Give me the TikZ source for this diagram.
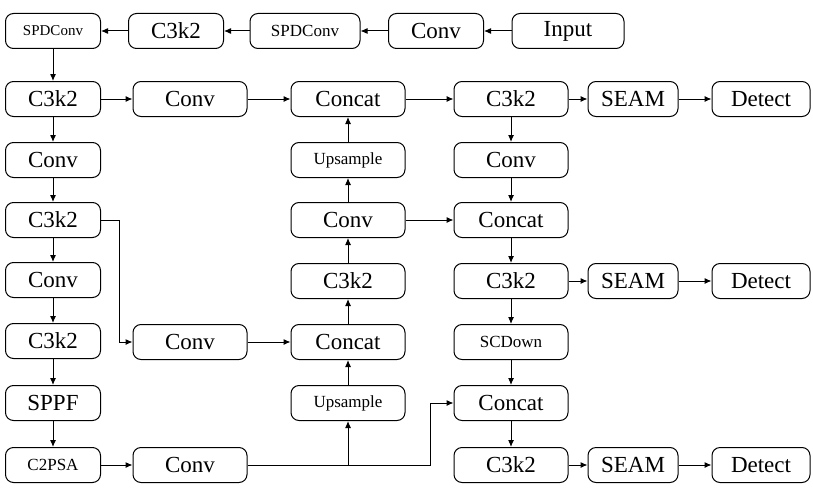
\documentclass[tikz,border=0pt]{standalone}
\usepackage{fontspec}
\setmainfont{Liberation Serif}
\usetikzlibrary{arrows.meta}
\begin{document}
\begin{tikzpicture}[x=1pt,y=-1pt,
 b/.style={draw,line width=1pt,rounded corners=8pt,minimum width=95pt,minimum height=35pt,inner sep=0pt,font=\fontsize{23}{23}\selectfont},
 s/.style={b,font=\fontsize{17}{17}\selectfont},
 w/.style={minimum width=114pt},
 ar/.style={-{Latex[length=7pt,width=6pt]},line width=1pt}]
\useasboundingbox (0,0) rectangle (813,495);
\node[s,font=\fontsize{15}{15}\selectfont] (spd1) at (53,31) {SPDConv};
\node[b] (t2) at (176,31) {C3k2};
\node[s,minimum width=110pt] (spd2) at (305,31) {SPDConv};
\node[b] (t4) at (436,31) {Conv};
\node[b,minimum width=112pt] (in) at (568,31) {Input};
\node[b] (a1) at (53,99) {C3k2};
\node[b] (a2) at (53,160) {Conv};
\node[b] (a3) at (53,220) {C3k2};
\node[b] (a4) at (53,280) {Conv};
\node[b] (a5) at (53,341) {C3k2};
\node[b] (a6) at (53,403) {SPPF};
\node[s] (a7) at (53,465) {C2PSA};
\node[b,w] (b1) at (190,99) {Conv};
\node[b,w] (b2) at (190,342) {Conv};
\node[b,w] (b3) at (190,465) {Conv};
\node[b,w] (c1) at (348,99) {Concat};
\node[s,w] (c2) at (348,160) {Upsample};
\node[b,w] (c3) at (348,220) {Conv};
\node[b,w] (c4) at (348,281) {C3k2};
\node[b,w] (c5) at (348,342) {Concat};
\node[s,w] (c6) at (348,403) {Upsample};
\node[b,w] (d1) at (511,99) {C3k2};
\node[b,w] (d2) at (511,160) {Conv};
\node[b,w] (d3) at (511,220) {Concat};
\node[b,w] (d4) at (511,281) {C3k2};
\node[s,w] (d5) at (511,342) {SCDown};
\node[b,w] (d6) at (511,403) {Concat};
\node[b,w] (d7) at (511,465) {C3k2};
\foreach \i/\y in {1/99,2/281,3/465}{
 \node[b,minimum width=90pt] (e\i) at (633,\y) {SEAM};
 \node[b,minimum width=98pt] (f\i) at (761,\y) {Detect};
 \draw[ar] (e\i) -- (f\i);}
\draw[ar] (in) -- (t4);
\draw[ar] (t4) -- (spd2);
\draw[ar] (spd2) -- (t2);
\draw[ar] (t2) -- (spd1);
\draw[ar] (spd1) -- (a1);
\draw[ar] (a1)--(a2); \draw[ar] (a2)--(a3); \draw[ar] (a3)--(a4);
\draw[ar] (a4)--(a5); \draw[ar] (a5)--(a6); \draw[ar] (a6)--(a7);
\draw[ar] (a1)--(b1); \draw[ar] (b1)--(c1); \draw[ar] (c1)--(d1);
\draw[ar] (d1)--(e1); \draw[ar] (d4)--(e2); \draw[ar] (d7)--(e3);
\draw[ar] (a3.east) -- ++(18,0) |- (b2.west);
\draw[ar] (b2)--(c5);
\draw[ar] (a7)--(b3);
\coordinate (j) at (348,465);
\draw[ar] (b3.east) -- (j) -- (c6.south);
\draw[ar] (j) -- (430,465) |- (d6.west);
\draw[ar] (c6)--(c5); \draw[ar] (c5)--(c4); \draw[ar] (c4)--(c3);
\draw[ar] (c3)--(c2); \draw[ar] (c2)--(c1);
\draw[ar] (c3)--(d3);
\draw[ar] (d1)--(d2); \draw[ar] (d2)--(d3); \draw[ar] (d3)--(d4);
\draw[ar] (d4)--(d5); \draw[ar] (d5)--(d6); \draw[ar] (d6)--(d7);
\end{tikzpicture}
\end{document}
